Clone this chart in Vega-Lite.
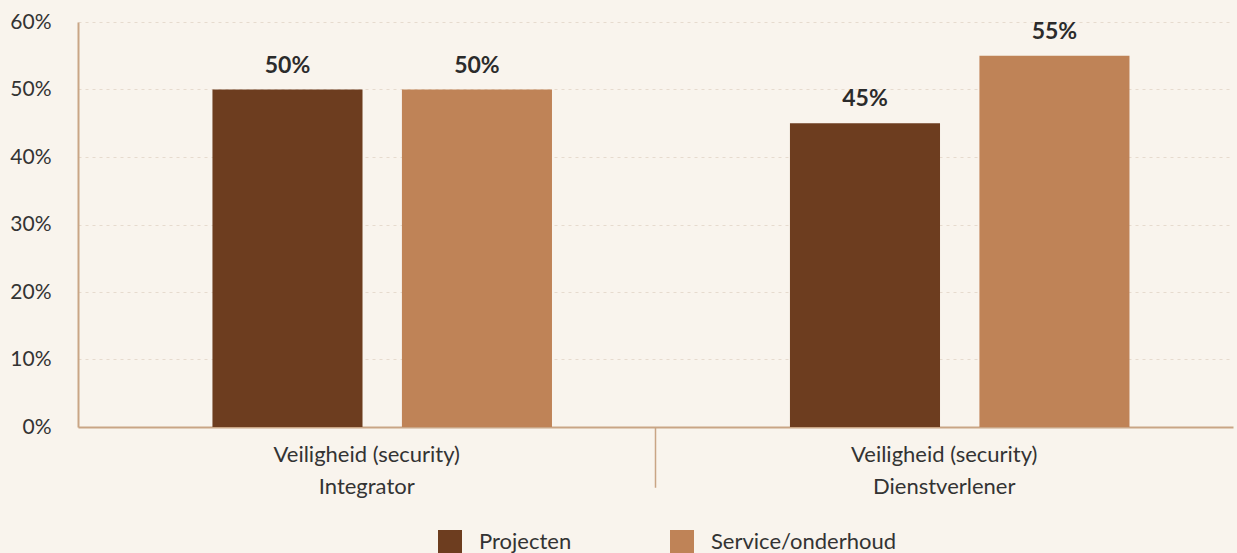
{
  "$schema": "https://vega.github.io/schema/vega-lite/v6.json",
  "width": 1155,
  "height": 405,
  "autosize": "none",
  "padding": {"left": 78, "top": 22, "right": 4, "bottom": 126},
  "background": "#f9f4ed",
  "config": {
    "view": {"stroke": null},
    "font": "Lato",
    "axis": {"labelFont": "Lato", "labelColor": "#333333", "titleFont": "Lato"},
    "legend": {"labelFont": "Lato"}
  },
  "data": {
    "values": [
      {"cat": "Veiligheid (security)|Integrator", "serie": "Projecten", "v": 0.5},
      {"cat": "Veiligheid (security)|Integrator", "serie": "Service/onderhoud", "v": 0.5},
      {"cat": "Veiligheid (security)|Dienstverlener", "serie": "Projecten", "v": 0.45},
      {"cat": "Veiligheid (security)|Dienstverlener", "serie": "Service/onderhoud", "v": 0.55}
    ]
  },
  "encoding": {
    "x": {
      "field": "cat",
      "type": "nominal",
      "sort": null,
      "scale": {"paddingInner": 0, "paddingOuter": 0},
      "axis": {
        "title": null,
        "labelAngle": 0,
        "labelExpr": "split(datum.label, '|')",
        "labelFontSize": 22,
        "labelLineHeight": 32,
        "labelPadding": 17,
        "labelLimit": 400,
        "ticks": false,
        "domainColor": "#c9a585",
        "domainWidth": 2
      }
    }
  },
  "layer": [
    {
      "mark": {"type": "bar"},
      "encoding": {
        "xOffset": {
          "field": "serie",
          "type": "nominal",
          "sort": ["Projecten", "Service/onderhoud"],
          "scale": {"paddingInner": 0.208, "paddingOuter": 0.628, "align": 0.565}
        },
        "y": {
          "field": "v",
          "type": "quantitative",
          "scale": {"domain": [0, 0.6], "nice": false},
          "axis": {
            "title": null,
            "format": ".0%",
            "values": [0, 0.1, 0.2, 0.3, 0.4, 0.5, 0.6],
            "labelFontSize": 21,
            "labelPadding": 27,
            "ticks": false,
            "domainColor": "#c9a585",
            "domainWidth": 2,
            "gridColor": "#e6dbce",
            "gridDash": [3, 4],
            "gridWidth": 1
          }
        },
        "color": {
          "field": "serie",
          "type": "nominal",
          "sort": ["Projecten", "Service/onderhoud"],
          "scale": {"domain": ["Projecten", "Service/onderhoud"], "range": ["#6d3d1f", "#bf8357"]},
          "legend": {
            "title": null,
            "orient": "none",
            "legendX": 360,
            "legendY": 508,
            "direction": "horizontal",
            "symbolType": "square",
            "symbolSize": 576,
            "symbolStrokeWidth": 0,
            "labelFontSize": 22,
            "labelColor": "#333333",
            "labelOffset": 17,
            "labelLimit": 400,
            "columnPadding": 98
          }
        }
      }
    },
    {
      "mark": {"type": "text", "baseline": "bottom", "dy": -12, "fontSize": 23, "fontWeight": "bold", "color": "#2b2b2b"},
      "encoding": {
        "xOffset": {
          "field": "serie",
          "type": "nominal",
          "sort": ["Projecten", "Service/onderhoud"],
          "scale": {"paddingInner": 0.208, "paddingOuter": 0.628, "align": 0.565}
        },
        "y": {"field": "v", "type": "quantitative"},
        "text": {"field": "v", "type": "quantitative", "format": ".0%"}
      }
    },
    {
      "data": {"values": [{"cat": "Veiligheid (security)|Dienstverlener"}]},
      "mark": {"type": "rule", "color": "#c9a585", "strokeWidth": 1.5},
      "encoding": {
        "x": {"field": "cat", "type": "nominal", "bandPosition": 0},
        "y": {"datum": 0},
        "y2": {"datum": -0.09}
      }
    }
  ]
}
